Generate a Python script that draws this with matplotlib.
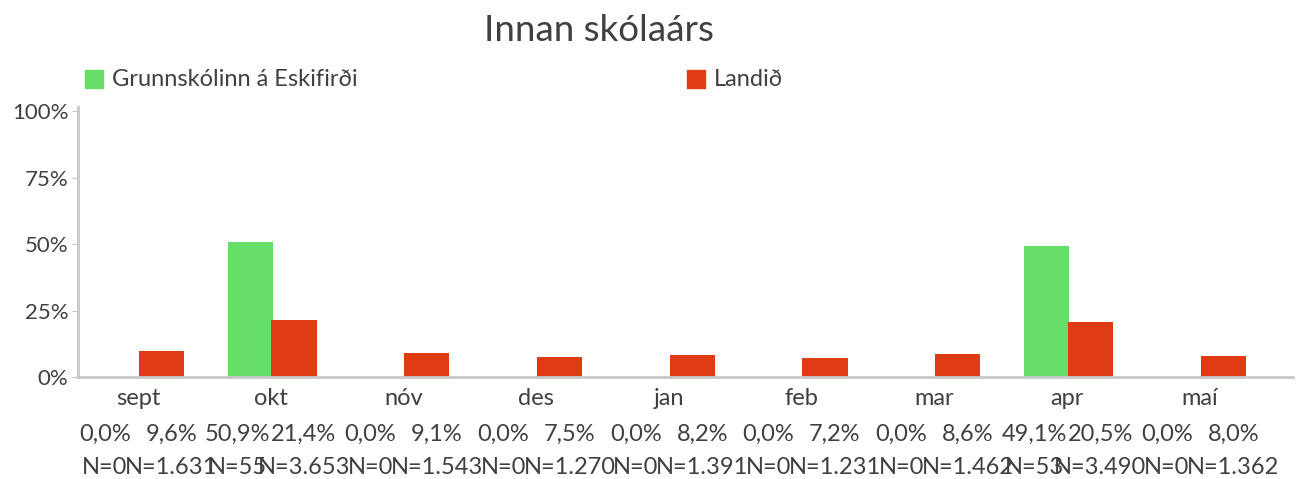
import matplotlib.pyplot as plt
from matplotlib.patches import Rectangle
import numpy as np

plt.rcParams['font.family'] = ['Lato', 'DejaVu Sans']

months = ["sept", "okt", "nóv", "des", "jan", "feb", "mar", "apr", "maí"]
school_pct = [0.0, 50.9, 0.0, 0.0, 0.0, 0.0, 0.0, 49.1, 0.0]
country_pct = [9.6, 21.4, 9.1, 7.5, 8.2, 7.2, 8.6, 20.5, 8.0]
school_n = ["0", "55", "0", "0", "0", "0", "0", "53", "0"]
country_n = ["1.631", "3.653", "1.543", "1.270", "1.391", "1.231", "1.462", "3.490", "1.362"]

green = "#66dd66"
red = "#e03c14"
txt = "#404040"
axcol = "#c8c8c8"

fig = plt.figure(figsize=(13.14, 4.79), dpi=100)
ax = fig.add_axes([0.0594, 0.2129, 0.9246, 0.5637])

x = np.arange(len(months))
w = 0.34
ax.bar(x - 0.155, school_pct, width=w, color=green)
ax.bar(x + 0.175, country_pct, width=w, color=red)

ax.set_xlim(-0.452, 8.70)
ax.set_ylim(0, 101.5)
ax.set_yticks([0, 25, 50, 75, 100])
ax.set_yticklabels(["0%", "25%", "50%", "75%", "100%"])
ax.tick_params(axis='y', length=4, color=axcol, labelsize=16, labelcolor=txt, pad=3)
ax.set_xticks([])
for s in ["top", "right"]:
    ax.spines[s].set_visible(False)
for s in ["left", "bottom"]:
    ax.spines[s].set_color(axcol)
    ax.spines[s].set_linewidth(2)

# category labels in three rows
tr = ax.get_xaxis_transform()
fs = 17
for i, m in enumerate(months):
    ax.text(i, -0.078, m, transform=tr, ha='center', va='center', fontsize=fs, color=txt, clip_on=False)
    ax.text(i - 0.25, -0.211, f"{school_pct[i]:.1f}%".replace(".", ","), transform=tr,
            ha='center', va='center', fontsize=fs, color=txt, clip_on=False)
    ax.text(i + 0.25, -0.211, f"{country_pct[i]:.1f}%".replace(".", ","), transform=tr,
            ha='center', va='center', fontsize=fs, color=txt, clip_on=False)
    ax.text(i - 0.25, -0.335, "N=" + school_n[i], transform=tr,
            ha='center', va='center', fontsize=fs, color=txt, clip_on=False)
    ax.text(i + 0.25, -0.335, "N=" + country_n[i], transform=tr,
            ha='center', va='center', fontsize=fs, color=txt, clip_on=False)

fig.text(0.4555, 0.937, "Innan skólaárs", ha='center', va='center', fontsize=26.5, color=txt)

# legend
fig.patches.append(Rectangle((85 / 1314, 1 - 88 / 479), 18 / 1314, 18 / 479,
                             transform=fig.transFigure, color=green))
fig.text(112 / 1314, 1 - 79 / 479, "Grunnskólinn á Eskifirði", va='center', fontsize=17, color=txt)
fig.patches.append(Rectangle((687 / 1314, 1 - 88 / 479), 18 / 1314, 18 / 479,
                             transform=fig.transFigure, color=red))
fig.text(714 / 1314, 1 - 79 / 479, "Landið", va='center', fontsize=17, color=txt)

fig.savefig("out.png", dpi=100)
